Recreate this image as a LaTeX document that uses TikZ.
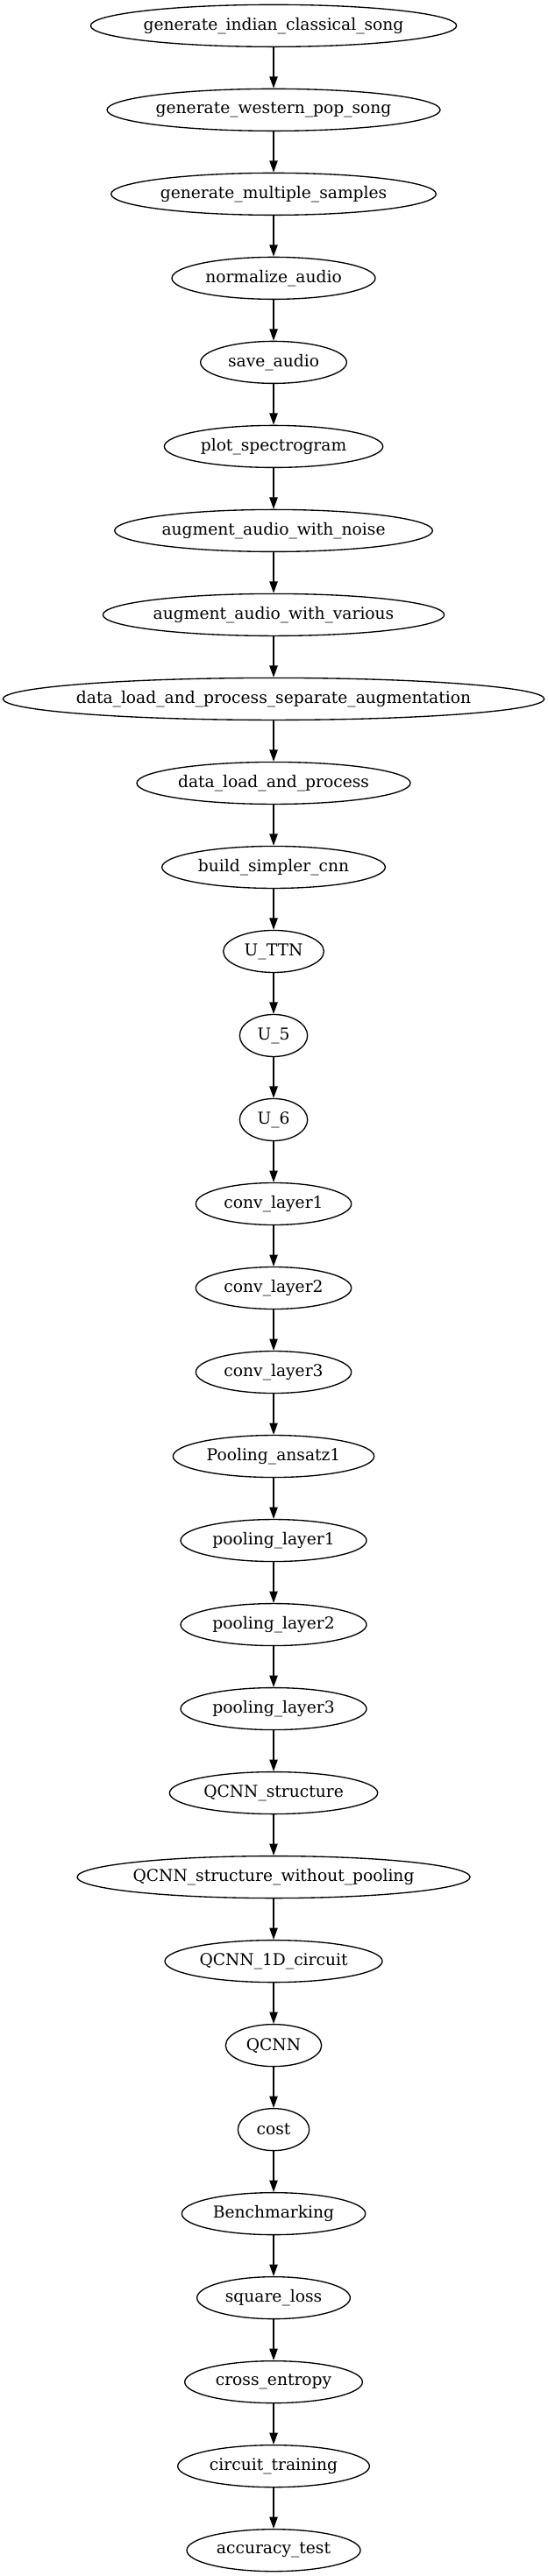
\documentclass[tikz,border=0pt]{standalone}
\usepackage{fontspec}
\setmainfont{DejaVu Serif}
\usetikzlibrary{shapes.geometric,arrows.meta}
\tikzset{
  fn/.style={ellipse, draw=black, line width=1pt, inner sep=0pt,
    minimum height=36pt, font=\fontsize{14pt}{16pt}\selectfont},
  edge/.style={draw=black, line width=1pt, -{Triangle[length=10pt,width=7pt]}}
}
\begin{document}
\begin{tikzpicture}
\useasboundingbox (0,0) rectangle (468pt,-2204pt);
\def\cx{234pt}
\foreach \i/\w/\t in {
0/313/generate\_indian\_classical\_song,
1/285/generate\_western\_pop\_song,
2/278/generate\_multiple\_samples,
3/174/normalize\_audio,
4/125/save\_audio,
5/187/plot\_spectrogram,
6/272/augment\_audio\_with\_noise,
7/292/augment\_audio\_with\_various,
8/463/data\_load\_and\_process\_separate\_augmentation,
9/234/data\_load\_and\_process,
10/191/build\_simpler\_cnn,
11/86/U\_TTN,
12/58/U\_5,
13/58/U\_6,
14/133/conv\_layer1,
15/133/conv\_layer2,
16/133/conv\_layer3,
17/172/Pooling\_ansatz1,
18/159/pooling\_layer1,
19/159/pooling\_layer2,
20/159/pooling\_layer3,
21/178/QCNN\_structure,
22/336/QCNN\_structure\_without\_pooling,
23/186/QCNN\_1D\_circuit,
24/82/QCNN,
25/61/cost,
26/157/Benchmarking,
27/131/square\_loss,
28/152/cross\_entropy,
29/164/circuit\_training,
30/148.5/accuracy\_test}
{
  \node[fn, minimum width=\w pt] (n\i) at (\cx,{-22pt-72pt*\i}) {\makebox[0pt][c]{\t}};
}
\foreach \a in {0,...,29}{
  \pgfmathtruncatemacro{\b}{\a+1}
  \draw[edge] (n\a) -- (n\b);
}
\end{tikzpicture}
\end{document}
